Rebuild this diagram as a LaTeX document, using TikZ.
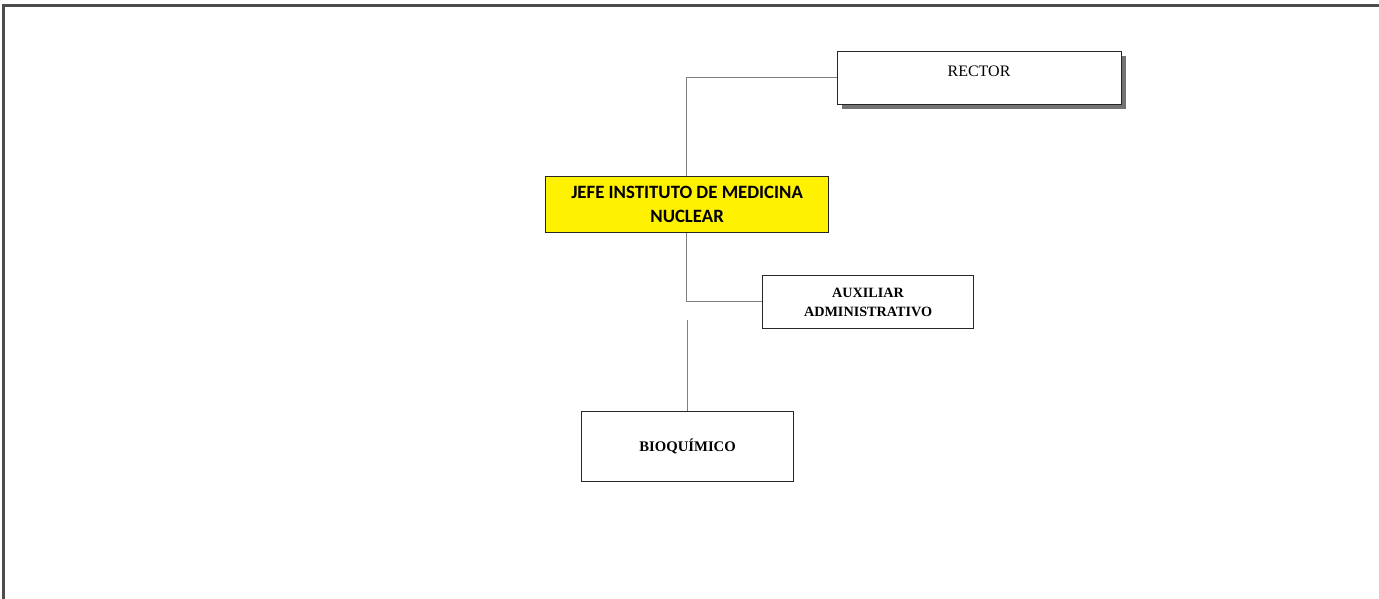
\documentclass[tikz,border=0pt]{standalone}
\usepackage{fontspec}
\setmainfont{Liberation Serif}
\newfontfamily\calib{Carlito}
\begin{document}
\begin{tikzpicture}[x=1pt,y=-1pt,
  box/.style={draw=black!85,line width=1.2pt,fill=white,inner sep=0pt},
  link/.style={draw=black!50,line width=1pt},
  frame/.style={draw=black!70,line width=2.2pt}]
\useasboundingbox (0,0) rectangle (1379,599);
% page frame (top and left edges)
\draw[frame] (1379,5.5) -- (3.5,5.5) -- (3.5,599);
% RECTOR with drop shadow
\fill[black!55] (842,56) rectangle (1126,109);
\node[box,minimum width=284pt,minimum height=53pt,anchor=north west] (rector) at (837,51) {};
\node[font=\fontsize{16}{18}\selectfont] (rt) at (979,71) {RECTOR};
% head of institute
\node[box,fill=yellow,minimum width=283pt,minimum height=56pt,anchor=north west,
  align=center,font=\calib\bfseries\fontsize{18.8}{24}\selectfont] (jefe) at (545,176)
  {JEFE INSTITUTO DE MEDICINA\\NUCLEAR};
% administrative assistant
\node[box,minimum width=211pt,minimum height=53pt,anchor=north west,
  align=center,font=\bfseries\fontsize{14.2}{19}\selectfont] (aux) at (762,275)
  {AUXILIAR\\ADMINISTRATIVO};
% biochemist
\node[box,minimum width=212pt,minimum height=70pt,anchor=north west,
  font=\bfseries\fontsize{14.7}{16}\selectfont] (bio) at (581,411) {BIOQUÍMICO};
% connectors
\coordinate (c1) at (686,78);
\coordinate (c2) at (686,301);
\coordinate (c3) at (687,320);
\draw[link] (rector.west |- c1) -- (c1) -- (jefe.north -| c1);
\draw[link] (jefe.south -| c2) -- (c2) -- (aux.west |- c2);
\draw[link] (c3) -- (bio.north -| c3);
\end{tikzpicture}
\end{document}
